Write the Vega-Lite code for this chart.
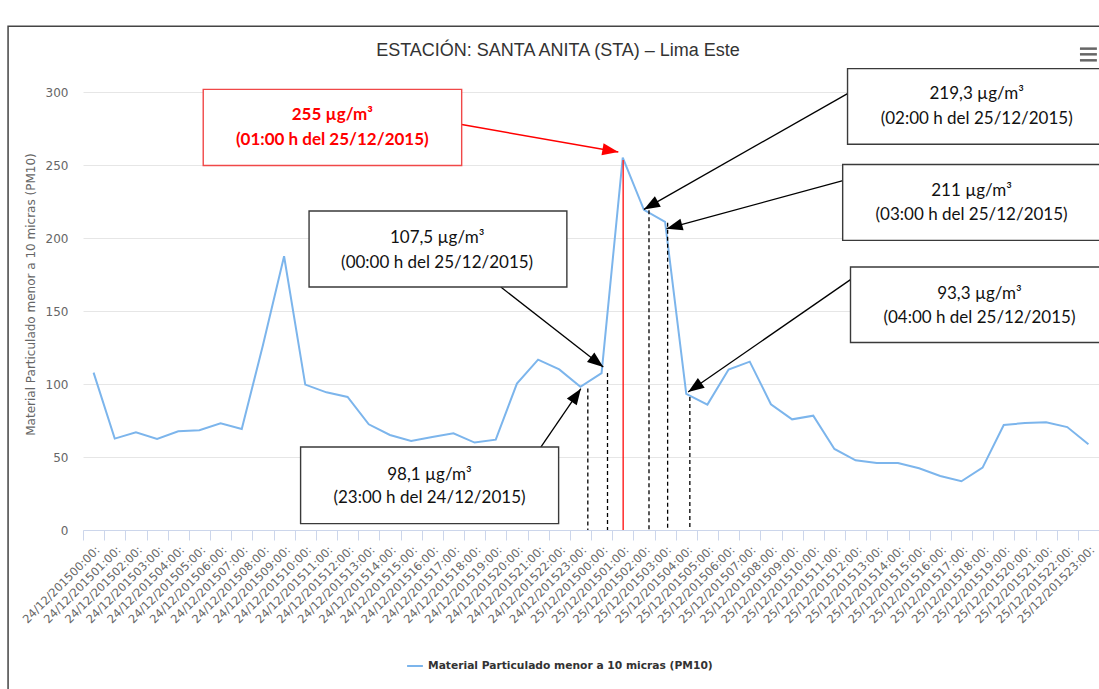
{
  "$schema": "https://vega.github.io/schema/vega-lite/v6.json",
  "width": 1016,
  "height": 438,
  "autosize": "none",
  "padding": {"left": 83, "top": 92, "right": 0, "bottom": 159},
  "background": "white",
  "title": {"text": "ESTACIÓN: SANTA ANITA (STA) – Lima Este", "font": "Liberation Sans", "fontSize": 18, "fontWeight": "normal", "color": "#333333", "anchor": "middle", "frame": "group", "dx": -33, "baseline": "alphabetic", "offset": -48.5},
  "config": {"view": {"stroke": null}},
  "datasets": {
    "serie": [
      {"hora": "24/12/201500:00:", "pm10": 107.8},
      {"hora": "24/12/201501:00:", "pm10": 62.6},
      {"hora": "24/12/201502:00:", "pm10": 66.9},
      {"hora": "24/12/201503:00:", "pm10": 62.3},
      {"hora": "24/12/201504:00:", "pm10": 67.6},
      {"hora": "24/12/201505:00:", "pm10": 68.3},
      {"hora": "24/12/201506:00:", "pm10": 73.1},
      {"hora": "24/12/201507:00:", "pm10": 69.2},
      {"hora": "24/12/201508:00:", "pm10": 126.5},
      {"hora": "24/12/201509:00:", "pm10": 187.5},
      {"hora": "24/12/201510:00:", "pm10": 99.6},
      {"hora": "24/12/201511:00:", "pm10": 94.3},
      {"hora": "24/12/201512:00:", "pm10": 91.1},
      {"hora": "24/12/201513:00:", "pm10": 72.4},
      {"hora": "24/12/201514:00:", "pm10": 65.1},
      {"hora": "24/12/201515:00:", "pm10": 61.0},
      {"hora": "24/12/201516:00:", "pm10": 63.7},
      {"hora": "24/12/201517:00:", "pm10": 66.2},
      {"hora": "24/12/201518:00:", "pm10": 59.9},
      {"hora": "24/12/201519:00:", "pm10": 61.9},
      {"hora": "24/12/201520:00:", "pm10": 100.3},
      {"hora": "24/12/201521:00:", "pm10": 116.7},
      {"hora": "24/12/201522:00:", "pm10": 110.0},
      {"hora": "24/12/201523:00:", "pm10": 98.1},
      {"hora": "25/12/201500:00:", "pm10": 107.5},
      {"hora": "25/12/201501:00:", "pm10": 255},
      {"hora": "25/12/201502:00:", "pm10": 219.3},
      {"hora": "25/12/201503:00:", "pm10": 211},
      {"hora": "25/12/201504:00:", "pm10": 93.3},
      {"hora": "25/12/201505:00:", "pm10": 85.9},
      {"hora": "25/12/201506:00:", "pm10": 109.9},
      {"hora": "25/12/201507:00:", "pm10": 115.3},
      {"hora": "25/12/201508:00:", "pm10": 86.1},
      {"hora": "25/12/201509:00:", "pm10": 75.8},
      {"hora": "25/12/201510:00:", "pm10": 78.3},
      {"hora": "25/12/201511:00:", "pm10": 55.5},
      {"hora": "25/12/201512:00:", "pm10": 47.7},
      {"hora": "25/12/201513:00:", "pm10": 45.9},
      {"hora": "25/12/201514:00:", "pm10": 45.9},
      {"hora": "25/12/201515:00:", "pm10": 42.3},
      {"hora": "25/12/201516:00:", "pm10": 37.0},
      {"hora": "25/12/201517:00:", "pm10": 33.4},
      {"hora": "25/12/201518:00:", "pm10": 42.7},
      {"hora": "25/12/201519:00:", "pm10": 71.9},
      {"hora": "25/12/201520:00:", "pm10": 73.3},
      {"hora": "25/12/201521:00:", "pm10": 73.8},
      {"hora": "25/12/201522:00:", "pm10": 70.5},
      {"hora": "25/12/201523:00:", "pm10": 58.7}
    ],
    "marco": [{"x1": -4.04, "x2": 52, "y1": 345.0, "y2": -200}],
    "guias": [
      {"x": 23.35, "y": 97.0},
      {"x": 24.28, "y": 107.5},
      {"x": 26.24, "y": 219.0},
      {"x": 27.12, "y": 210.5},
      {"x": 28.17, "y": 91.1}
    ],
    "guiaroja": [{"x": 25.02, "y": 253.5}],
    "flechas": [
      {"x1": 19.24, "y1": 166.4, "x2": 24.08, "y2": 111.6},
      {"x1": 21.13, "y1": 56.8, "x2": 23.02, "y2": 96.8},
      {"x1": 35.62, "y1": 298.9, "x2": 26.0, "y2": 219.6},
      {"x1": 35.62, "y1": 240.2, "x2": 27.07, "y2": 206.4},
      {"x1": 35.76, "y1": 171.5, "x2": 28.09, "y2": 94.5}
    ],
    "flecharoja": [{"x1": 17.39, "y1": 277.7, "x2": 24.79, "y2": 258.9}],
    "cajas": [
      {"x1": 35.62, "x2": 48.5, "y1": 264.2, "y2": 316.0},
      {"x1": 35.39, "x2": 48.5, "y1": 198.4, "y2": 250.3},
      {"x1": 35.76, "x2": 48.5, "y1": 128.4, "y2": 180.1},
      {"x1": 10.18, "x2": 22.36, "y1": 166.4, "y2": 218.5},
      {"x1": 9.78, "x2": 21.97, "y1": 4.4, "y2": 56.8}
    ],
    "cajaroja": [{"x1": 5.18, "x2": 17.39, "y1": 249.7, "y2": 301.8}],
    "textos": [
      {"x": 41.72, "y": 295.0, "t": "219,3 µg/m³"},
      {"x": 41.72, "y": 277.9, "t": "(02:00 h del 25/12/2015)"},
      {"x": 41.48, "y": 228.8, "t": "211 µg/m³"},
      {"x": 41.48, "y": 212.1, "t": "(03:00 h del 25/12/2015)"},
      {"x": 41.85, "y": 158.5, "t": "93,3 µg/m³"},
      {"x": 41.85, "y": 142.0, "t": "(04:00 h del 25/12/2015)"},
      {"x": 16.23, "y": 196.8, "t": "107,5 µg/m³"},
      {"x": 16.23, "y": 179.7, "t": "(00:00 h del 25/12/2015)"},
      {"x": 15.87, "y": 34.0, "t": "98,1 µg/m³"},
      {"x": 15.87, "y": 18.5, "t": "(23:00 h del 24/12/2015)"}
    ],
    "textosrojos": [
      {"x": 11.28, "y": 280.6, "t": "255 µg/m³"},
      {"x": 11.28, "y": 263.5, "t": "(01:00 h del 25/12/2015)"}
    ],
    "menu": [
      {"x1": 46.6, "x2": 47.4, "y": 329.7},
      {"x1": 46.6, "x2": 47.4, "y": 325.8},
      {"x1": 46.6, "x2": 47.4, "y": 321.7}
    ]
  },
  "layer": [
    {
      "data": {"name": "serie"},
      "mark": {"type": "line", "strokeWidth": 2, "clip": false},
      "encoding": {
        "x": {"field": "hora", "type": "nominal", "sort": null,
          "scale": {"type": "band", "paddingInner": 0, "paddingOuter": 0},
          "axis": {"title": null, "labelAngle": -45, "labelFont": "DejaVu Sans", "labelFontSize": 11.5, "labelColor": "#666666", "tickBand": "extent", "tickColor": "#ccd6eb", "tickSize": 10, "domainColor": "#ccd6eb", "grid": false, "labelOverlap": false, "labelBound": false, "labelPadding": 4, "labelLimit": 0}},
        "y": {"field": "pm10", "type": "quantitative",
          "scale": {"domain": [0, 300], "nice": false, "zero": false},
          "axis": {"title": "Material Particulado menor a 10 micras (PM10)", "values": [0, 50, 100, 150, 200, 250, 300], "domain": false, "ticks": false, "grid": true, "gridColor": "#e6e6e6", "labelFont": "DejaVu Sans", "labelFontSize": 12, "labelColor": "#666666", "labelPadding": 15, "titleFont": "DejaVu Sans", "titleFontSize": 12, "titleFontWeight": "normal", "titleColor": "#666666", "titlePadding": 8, "titleY": 202}},
        "color": {"datum": "Material Particulado menor a 10 micras (PM10)",
          "scale": {"range": ["#7cb5ec"]},
          "legend": {"title": null, "orient": "none", "legendX": 323, "legendY": 565, "direction": "horizontal", "labelFont": "DejaVu Sans", "labelFontSize": 10.7, "labelFontWeight": "bold", "labelColor": "#333333", "symbolType": "stroke", "symbolStrokeWidth": 2, "symbolSize": 250, "labelLimit": 0}}
      }
    },
    {
      "layer": [
        {
          "data": {"name": "marco"},
          "mark": {"type": "rect", "fill": null, "filled": false, "stroke": "#444444", "strokeWidth": 1.5, "clip": false},
          "encoding": {
            "x": {"field": "x1", "type": "quantitative", "scale": {"domain": [-0.5, 47.5], "nice": false, "zero": false}, "axis": null},
            "x2": {"field": "x2"},
            "y": {"field": "y1", "type": "quantitative", "scale": {"domain": [0, 300], "nice": false, "zero": false}, "axis": null},
            "y2": {"field": "y2"}
          }
        },
        {
          "data": {"name": "guias"},
          "mark": {"type": "rule", "color": "#000000", "strokeWidth": 1.3, "strokeDash": [4, 3], "clip": false},
          "encoding": {
            "x": {"field": "x", "type": "quantitative", "scale": {"domain": [-0.5, 47.5], "nice": false, "zero": false}, "axis": null},
            "y": {"field": "y", "type": "quantitative", "scale": {"domain": [0, 300], "nice": false, "zero": false}, "axis": null},
            "y2": {"datum": 0}
          }
        },
        {
          "data": {"name": "guiaroja"},
          "mark": {"type": "rule", "color": "#ff2a2a", "strokeWidth": 1.5, "clip": false},
          "encoding": {
            "x": {"field": "x", "type": "quantitative", "scale": {"domain": [-0.5, 47.5], "nice": false, "zero": false}, "axis": null},
            "y": {"field": "y", "type": "quantitative", "scale": {"domain": [0, 300], "nice": false, "zero": false}, "axis": null},
            "y2": {"datum": 0}
          }
        },
        {
          "data": {"name": "flechas"},
          "mark": {"type": "rule", "color": "#000000", "strokeWidth": 1.3, "clip": false},
          "encoding": {
            "x": {"field": "x1", "type": "quantitative", "scale": {"domain": [-0.5, 47.5], "nice": false, "zero": false}, "axis": null},
            "x2": {"field": "x2"},
            "y": {"field": "y1", "type": "quantitative", "scale": {"domain": [0, 300], "nice": false, "zero": false}, "axis": null},
            "y2": {"field": "y2"}
          }
        },
        {
          "data": {"name": "flecharoja"},
          "mark": {"type": "rule", "color": "#ff0000", "strokeWidth": 1.5, "clip": false},
          "encoding": {
            "x": {"field": "x1", "type": "quantitative", "scale": {"domain": [-0.5, 47.5], "nice": false, "zero": false}, "axis": null},
            "x2": {"field": "x2"},
            "y": {"field": "y1", "type": "quantitative", "scale": {"domain": [0, 300], "nice": false, "zero": false}, "axis": null},
            "y2": {"field": "y2"}
          }
        },
        {
          "data": {"name": "flechas"},
          "transform": [{"calculate": "atan2((datum.x2 - datum.x1) * 21.17, (datum.y2 - datum.y1) * 1.46) * 180 / PI", "as": "ang"}],
          "mark": {"type": "point", "shape": "M0,0L0.6,1.6L-0.6,1.6Z", "filled": true, "color": "#000000", "opacity": 1, "size": 400, "clip": false},
          "encoding": {
            "x": {"field": "x2", "type": "quantitative", "scale": {"domain": [-0.5, 47.5], "nice": false, "zero": false}, "axis": null},
            "y": {"field": "y2", "type": "quantitative", "scale": {"domain": [0, 300], "nice": false, "zero": false}, "axis": null},
            "angle": {"field": "ang", "type": "quantitative", "scale": null}
          }
        },
        {
          "data": {"name": "flecharoja"},
          "transform": [{"calculate": "atan2((datum.x2 - datum.x1) * 21.17, (datum.y2 - datum.y1) * 1.46) * 180 / PI", "as": "ang"}],
          "mark": {"type": "point", "shape": "M0,0L0.6,1.6L-0.6,1.6Z", "filled": true, "color": "#ff0000", "opacity": 1, "size": 400, "clip": false},
          "encoding": {
            "x": {"field": "x2", "type": "quantitative", "scale": {"domain": [-0.5, 47.5], "nice": false, "zero": false}, "axis": null},
            "y": {"field": "y2", "type": "quantitative", "scale": {"domain": [0, 300], "nice": false, "zero": false}, "axis": null},
            "angle": {"field": "ang", "type": "quantitative", "scale": null}
          }
        },
        {
          "data": {"name": "cajas"},
          "mark": {"type": "rect", "fill": "#ffffff", "stroke": "#3a3a3a", "strokeWidth": 1.4, "clip": false},
          "encoding": {
            "x": {"field": "x1", "type": "quantitative", "scale": {"domain": [-0.5, 47.5], "nice": false, "zero": false}, "axis": null},
            "x2": {"field": "x2"},
            "y": {"field": "y1", "type": "quantitative", "scale": {"domain": [0, 300], "nice": false, "zero": false}, "axis": null},
            "y2": {"field": "y2"}
          }
        },
        {
          "data": {"name": "cajaroja"},
          "mark": {"type": "rect", "fill": "#ffffff", "stroke": "#f04848", "strokeWidth": 1.4, "clip": false},
          "encoding": {
            "x": {"field": "x1", "type": "quantitative", "scale": {"domain": [-0.5, 47.5], "nice": false, "zero": false}, "axis": null},
            "x2": {"field": "x2"},
            "y": {"field": "y1", "type": "quantitative", "scale": {"domain": [0, 300], "nice": false, "zero": false}, "axis": null},
            "y2": {"field": "y2"}
          }
        },
        {
          "data": {"name": "textos"},
          "mark": {"type": "text", "font": "Lato", "fontSize": 17, "color": "#111111", "align": "center", "baseline": "alphabetic", "clip": false},
          "encoding": {
            "x": {"field": "x", "type": "quantitative", "scale": {"domain": [-0.5, 47.5], "nice": false, "zero": false}, "axis": null},
            "y": {"field": "y", "type": "quantitative", "scale": {"domain": [0, 300], "nice": false, "zero": false}, "axis": null},
            "text": {"field": "t"}
          }
        },
        {
          "data": {"name": "textosrojos"},
          "mark": {"type": "text", "font": "Lato", "fontSize": 17, "fontWeight": "bold", "color": "#ff0000", "align": "center", "baseline": "alphabetic", "clip": false},
          "encoding": {
            "x": {"field": "x", "type": "quantitative", "scale": {"domain": [-0.5, 47.5], "nice": false, "zero": false}, "axis": null},
            "y": {"field": "y", "type": "quantitative", "scale": {"domain": [0, 300], "nice": false, "zero": false}, "axis": null},
            "text": {"field": "t"}
          }
        },
        {
          "data": {"name": "menu"},
          "mark": {"type": "rule", "color": "#666666", "strokeWidth": 2.5, "clip": false},
          "encoding": {
            "x": {"field": "x1", "type": "quantitative", "scale": {"domain": [-0.5, 47.5], "nice": false, "zero": false}, "axis": null},
            "x2": {"field": "x2"},
            "y": {"field": "y", "type": "quantitative", "scale": {"domain": [0, 300], "nice": false, "zero": false}, "axis": null}
          }
        }
      ]
    }
  ],
  "resolve": {"scale": {"x": "independent", "y": "independent"}}
}
